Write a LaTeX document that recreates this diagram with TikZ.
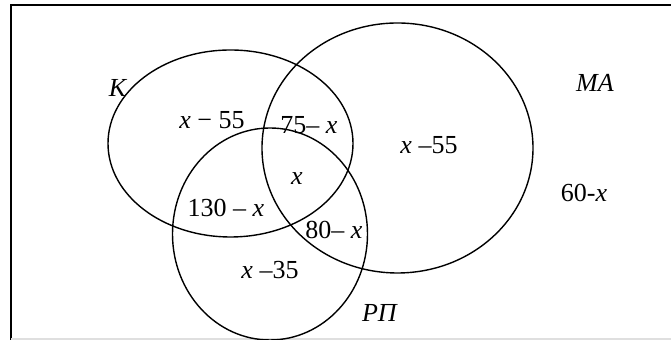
\documentclass[tikz,border=0pt]{standalone}
\usepackage{fontspec}
\setmainfont{Liberation Serif}
\usetikzlibrary{shapes.geometric}

\begin{document}
\begin{tikzpicture}[x=0.5pt, y=-0.5pt, every node/.style={font=\fontsize{13}{15}\selectfont, inner sep=0pt},
			set/.style 2 args={draw, ellipse, line width=0.7pt, minimum width=#1, minimum height=#2},
			lab/.style={align=center}]
			\useasboundingbox (0,0) rectangle (671,340);
			% frame
			\draw[line width=1pt] (11,340) -- (11,5) -- (671,5);
			\draw[gray!25, line width=0.6pt] (11,339) -- (671,339);
			% sets
			\node[set={122.5pt}{93.5pt}] (k) at (230.5,143.5) {};
			\node[set={135.5pt}{125pt}] (ma) at (397.5,148) {};
			\node[set={97.5pt}{106pt}] (rp) at (270,234) {};
			% names
			\node[lab] (kname) at (118,88) {\textit{К}};
			\node[lab] (maname) at (595,83) {\textit{МА}};
			\node[lab] (rpname) at (380,313) {\textit{РП}};
			% counts
			\node[lab] (konly) at (212,120) {\textit{x} − 55};
			\node[lab] (kma) at (309,125) {75– \textit{x}};
			\node[lab] (all) at (297,179) {\textit{x}};
			\node[lab] (krp) at (226,208) {130 – \textit{x}};
			\node[lab] (marp) at (334,230) {80– \textit{x}};
			\node[lab] (rponly) at (270,270) {\textit{x} –35};
			\node[lab] (maonly) at (429,145) {\textit{x} –55};
			\node[lab] (none) at (584,193) {60-\textit{x}};
		\end{tikzpicture}
\end{document}
